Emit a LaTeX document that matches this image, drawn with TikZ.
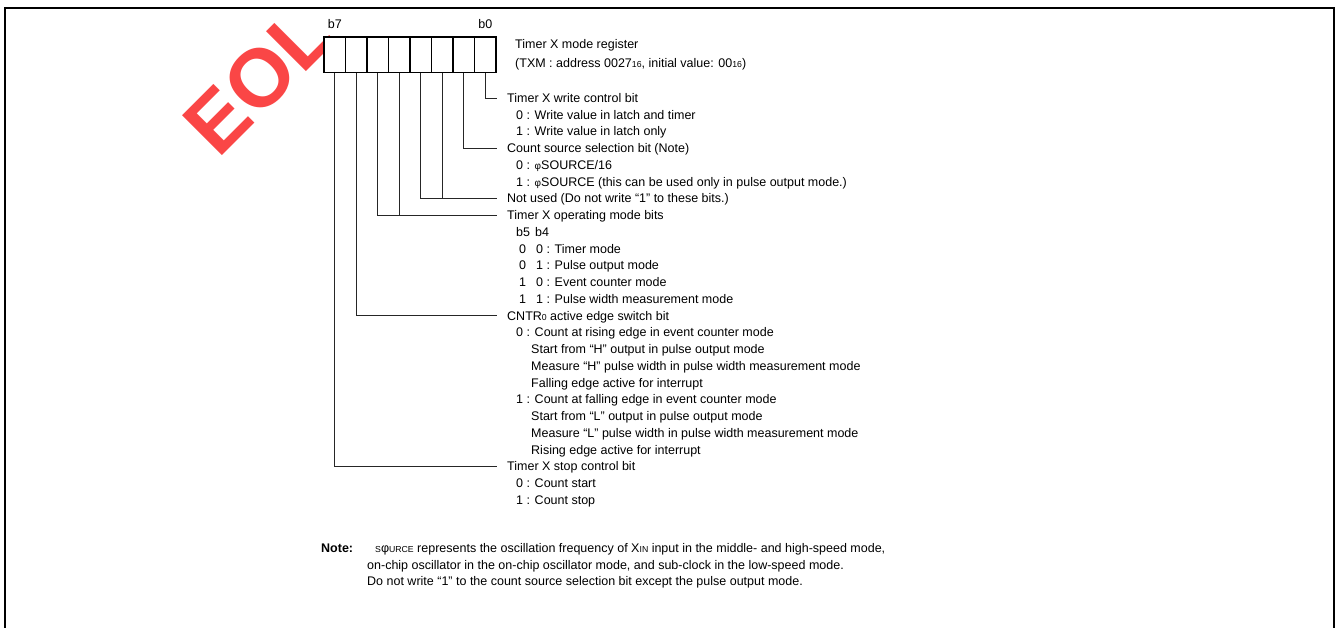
\documentclass[tikz,border=0pt]{standalone}
\usepackage{fontspec}
\setmainfont{Liberation Sans}
\newcommand\rfont{\fontsize{12.5}{14}\selectfont}
\newcommand\sm[1]{{\fontsize{8.7}{9}\selectfont #1}}
\newcommand\pre[1]{#1 : }
\definecolor{eolred}{RGB}{250,70,70}
\begin{document}
\begin{tikzpicture}[x=1pt,y=-1pt,
  txt/.style={anchor=base west,inner sep=0pt,font=\rfont},
  cell/.style={draw,fill=white,line width=1.3pt,minimum width=21.5pt,minimum height=35.5pt,inner sep=0pt},
  conn/.style={line width=0.9pt,draw=black!85},
  frame/.style={line width=2pt}]
\useasboundingbox (0,0) rectangle (1337,628);
% watermark
\node[rotate=45,text=eolred,font=\fontsize{82}{82}\selectfont\bfseries,inner sep=0pt] (eol) at (258,80) {EOL};
% frame
\draw[frame] (4.5,628) -- (4.5,8.5) -- (1333.5,8.5) -- (1333.5,628);
% register cells
\node[cell] (c7) at (334.75,54.75) {};
\node[cell] (c6) at (356.25,54.75) {};
\node[cell] (c5) at (377.75,54.75) {};
\node[cell] (c4) at (399.25,54.75) {};
\node[cell] (c3) at (420.75,54.75) {};
\node[cell] (c2) at (442.25,54.75) {};
\node[cell] (c1) at (463.75,54.75) {};
\node[cell] (c0) at (485.25,54.75) {};
\node[txt,anchor=base] (b7) at (334.75,28.5) {b7};
\node[txt,anchor=base] (b0) at (485.25,28.5) {b0};
\node[txt] (title1) at (515,48.5) {Timer X mode register};
\node[txt] (title2) at (515,67.5) {(TXM : address 0027\sm{16}, initial value: 00\sm{16})};
% connectors
\coordinate (e0) at (497,98);
\coordinate (e1) at (497,148.25);
\coordinate (e23) at (497,198.5);
\coordinate (e45) at (497,215.25);
\coordinate (e6) at (497,315.75);
\coordinate (e7) at (497,466.5);
\draw[conn] (c0.south) |- (e0);
\draw[conn] (c1.south) |- (e1);
\draw[conn] (c2.south) |- (e23);
\draw[conn] (c3.south) |- (e23);
\draw[conn] (c4.south) |- (e45);
\draw[conn] (c5.south) |- (e45);
\draw[conn] (c6.south) |- (e6);
\draw[conn] (c7.south) |- (e7);
% descriptions
\node[txt] (t0) at (507,102.4) {Timer X write control bit};
\node[txt] (t1) at (516,119.15) {\pre{0}Write value in latch and timer};
\node[txt] (t2) at (516,135.9) {\pre{1}Write value in latch only};
\node[txt] (t3) at (507,152.65) {Count source selection bit (Note)};
\node[txt] (t4) at (516,169.4) {\pre{0}{\fontsize{10}{10}\selectfont φ}SOURCE/16};
\node[txt] (t5) at (516,186.15) {\pre{1}{\fontsize{10}{10}\selectfont φ}SOURCE (this can be used only in pulse output mode.)};
\node[txt] (t6) at (507,202.9) {Not used (Do not write “1” to these bits.)};
\node[txt] (t7) at (507,219.65) {Timer X operating mode bits};
\node[txt] (t8a) at (516,236.4) {b5};
\node[txt] (t8b) at (535,236.4) {b4};
\node[txt] (t9a) at (519,253.15) {0};
\node[txt] (t9b) at (536,253.15) {0 : Timer mode};
\node[txt] (t10a) at (519,269.9) {0};
\node[txt] (t10b) at (536,269.9) {1 : Pulse output mode};
\node[txt] (t11a) at (519,286.65) {1};
\node[txt] (t11b) at (536,286.65) {0 : Event counter mode};
\node[txt] (t12a) at (519,303.4) {1};
\node[txt] (t12b) at (536,303.4) {1 : Pulse width measurement mode};
\node[txt] (t13) at (507,320.15) {CNTR\sm{0} active edge switch bit};
\node[txt] (t14) at (516,336.9) {\pre{0}Count at rising edge in event counter mode};
\node[txt] (t15) at (531,353.65) {Start from “H” output in pulse output mode};
\node[txt] (t16) at (531,370.4) {Measure “H” pulse width in pulse width measurement mode};
\node[txt] (t17) at (531,387.15) {Falling edge active for interrupt};
\node[txt] (t18) at (516,403.9) {\pre{1}Count at falling edge in event counter mode};
\node[txt] (t19) at (531,420.65) {Start from “L” output in pulse output mode};
\node[txt] (t20) at (531,437.4) {Measure “L” pulse width in pulse width measurement mode};
\node[txt] (t21) at (531,454.15) {Rising edge active for interrupt};
\node[txt] (t22) at (507,470.9) {Timer X stop control bit};
\node[txt] (t23) at (516,487.65) {\pre{0}Count start};
\node[txt] (t24) at (516,504.4) {\pre{1}Count stop};
% note
\node[txt,font=\rfont\bfseries] (note) at (321,552.4) {Note:};
\node[txt] (n1) at (375,552.4) {\sm{S}φ\sm{URCE} represents the oscillation frequency of X\sm{IN} input in the middle- and high-speed mode,};
\node[txt] (n2) at (367,569) {on-chip oscillator in the on-chip oscillator mode, and sub-clock in the low-speed mode.};
\node[txt] (n3) at (367,585.6) {Do not write “1” to the count source selection bit except the pulse output mode.};
\end{tikzpicture}
\end{document}
